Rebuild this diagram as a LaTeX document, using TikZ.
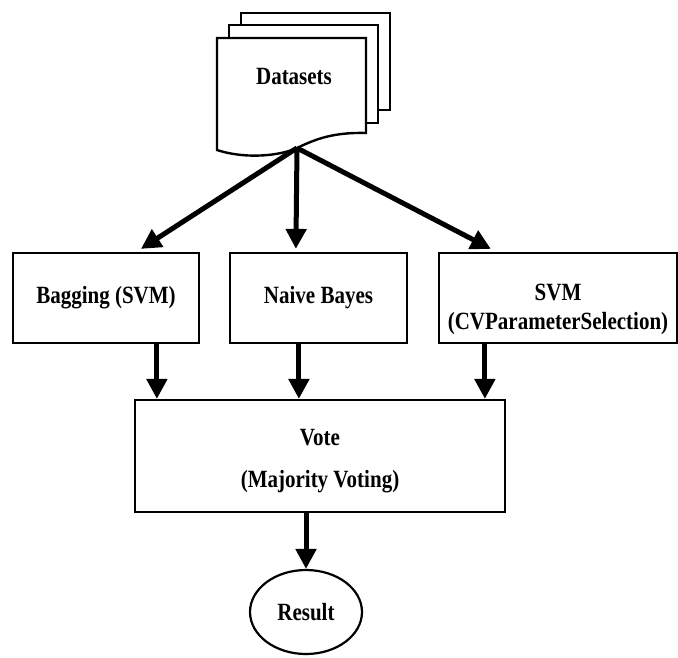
\documentclass[tikz,border=0pt]{standalone}
\usepackage{fontspec}
\setmainfont{Liberation Serif}
\usetikzlibrary{arrows.meta,calc,shapes.geometric}
\newcommand{\tx}[1]{\scalebox{1}[1.18]{#1}}
\begin{document}
\begin{tikzpicture}[x=1pt,y=-1pt,
  boxnode/.style={draw=black,line width=2.2pt,fill=white,rectangle,inner sep=0pt,
    font=\fontsize{21}{29}\selectfont\bfseries,align=center},
  sheet/.style={draw=black,line width=2.4pt,fill=white,line join=miter},
  bigarrow/.style={line width=5pt,-{Triangle[length=20pt,width=20pt]}},
  lbl/.style={font=\fontsize{21}{29}\selectfont\bfseries,align=center,inner sep=0pt}]
\useasboundingbox (0,0) rectangle (678,657);
% datasets sheets
\draw[sheet] (241,13) rectangle (390,110);
\draw[sheet] (229,25) rectangle (378,123);
\draw[sheet] (217,38) -- (366,38) -- (366,133)
  .. controls (330,132) and (312,141) .. (297,148)
  .. controls (282,155) and (248,160) .. (217,150) -- cycle;
\node[lbl] (ds) at (294,77) {\tx{Datasets}};
\coordinate (dsb) at (297,148);
% classifier boxes
\node[boxnode,minimum width=186pt,minimum height=90pt] (bag) at (106,298) {\tx{Bagging (SVM)}};
\node[boxnode,minimum width=177pt,minimum height=90pt] (nb) at (318.5,298) {\tx{Naive Bayes}};
\node[boxnode,minimum width=238pt,minimum height=90pt] (svm) at (558,298) {};
\node[lbl] (svmt) at (558,309) {\tx{SVM}\\\tx{(CVParameterSelection)}};
% vote box
\node[boxnode,minimum width=370pt,minimum height=112pt] (vote) at (320,456) {};
\node[lbl] (votet) at (320,438) {\tx{Vote}};
\node[lbl] (votem) at (320,482) {\tx{(Majority Voting)}};
% result
\node[draw=black,line width=2.2pt,ellipse,minimum width=112pt,minimum height=84pt,inner sep=0pt,
  font=\fontsize{21}{29}\selectfont\bfseries] (res) at (306,612) {\tx{Result}};
% arrows from datasets
\draw[bigarrow] (dsb) -- ($(bag.north west)+(129,-3)$);
\draw[bigarrow] (dsb) -- ($(nb.north west)+(67,-3)$);
\draw[bigarrow] (dsb) -- ($(svm.north west)+(53,-3)$);
% arrows to vote
\coordinate (b1) at ($(bag.south west)+(145,0)$);
\coordinate (n1) at ($(nb.south west)+(70,0)$);
\coordinate (s1) at ($(svm.south west)+(47,0)$);
\draw[bigarrow] (b1) -- (b1 |- vote.north);
\draw[bigarrow] (n1) -- (n1 |- vote.north);
\draw[bigarrow] (s1) -- (s1 |- vote.north);
% vote to result
\draw[bigarrow] (res.north |- vote.south) -- (res.north);
\end{tikzpicture}
\end{document}
